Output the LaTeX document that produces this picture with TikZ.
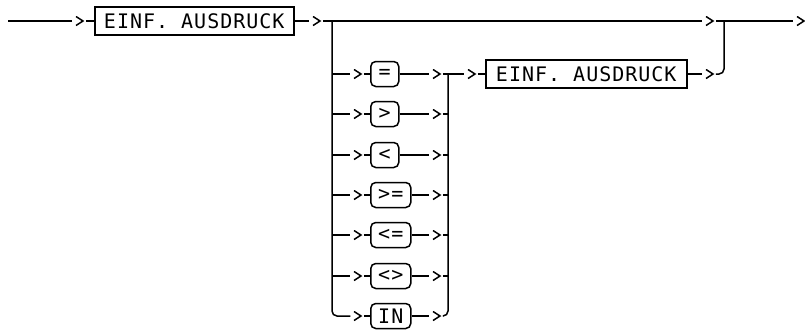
\documentclass[tikz,border=0pt]{standalone}
\usepackage{fontspec}
\newfontfamily\dotfont[LetterSpace=5]{DejaVu Sans Mono}
\usetikzlibrary{positioning}

\begin{document}
\begin{tikzpicture}[
    x=1pt, y=-1pt,
    line width=1.5pt,
    term/.style={rectangle, draw, minimum height=28pt, inner sep=0pt,
                 anchor=west, font=\fontsize{20pt}{22pt}\dotfont},
    opbox/.style={term, rounded corners=5pt, minimum height=25pt},
    chev/.style={rectangle, minimum width=12pt, minimum height=10pt, inner sep=0pt,
                 path picture={\draw[line width=1.5pt, line join=miter]
                   ([xshift=3pt,yshift=-0.5pt]path picture bounding box.north west)
                   -- ([xshift=-2pt]path picture bounding box.east)
                   -- ([xshift=3pt,yshift=0.5pt]path picture bounding box.south west);}},
    link/.style={line width=1.5pt},
    turnlink/.style={link, rounded corners=5pt},
]
    \useasboundingbox (0,0) rectangle (805,332);

    \coordinate (start) at (8,21);
    \node[chev] (c0) at (79,21) {};
    \node[term, minimum width=199pt] (e1) at (94,21) {EINF. AUSDRUCK};
    \node[chev] (c1) at (316,21) {};
    \coordinate (j1) at (332,21);
    \node[chev] (c2) at (709,21) {};
    \coordinate (j3) at (724,21);
    \node[chev] (c3) at (800,21) {};

    \node[chev] (l1) at (357,74) {};
    \node[opbox, minimum width=28pt] (op1) at (370,74) {=};
    \node[chev] (r1) at (436,74) {};
    \node[chev] (l2) at (357,114) {};
    \node[opbox, minimum width=28pt] (op2) at (370,114) {>};
    \node[chev] (r2) at (436,114) {};
    \node[chev] (l3) at (357,155) {};
    \node[opbox, minimum width=28pt] (op3) at (370,155) {<};
    \node[chev] (r3) at (436,155) {};
    \node[chev] (l4) at (357,195) {};
    \node[opbox, minimum width=40pt] (op4) at (370,195) {>=};
    \node[chev] (r4) at (436,195) {};
    \node[chev] (l5) at (357,235) {};
    \node[opbox, minimum width=40pt] (op5) at (370,235) {<=};
    \node[chev] (r5) at (436,235) {};
    \node[chev] (l6) at (357,276) {};
    \node[opbox, minimum width=40pt] (op6) at (370,276) {<>};
    \node[chev] (r6) at (436,276) {};
    \node[chev] (l7) at (357,316) {};
    \node[opbox, minimum width=40pt] (op7) at (370,316) {IN};
    \node[chev] (r7) at (436,316) {};

    \coordinate (j2) at (448,74);
    \node[chev] (c5) at (471,74) {};
    \node[term, minimum width=201pt] (e2) at (485,74) {EINF. AUSDRUCK};
    \node[chev] (c6) at (709,74) {};

    \draw[link] (start) -- (c0);
    \draw[link] (c0) -- (e1);
    \draw[link] (e1) -- (c1);
    \draw[link] (c1) -- (c2);
    \draw[link] (c2) -- (c3);

    \draw[turnlink] (j1) |- (l7.west);
    \draw[link] (j1 |- l1) -- (l1);
    \draw[link] (j1 |- l2) -- (l2);
    \draw[link] (j1 |- l3) -- (l3);
    \draw[link] (j1 |- l4) -- (l4);
    \draw[link] (j1 |- l5) -- (l5);
    \draw[link] (j1 |- l6) -- (l6);

    \draw[link] (l1) -- (op1); \draw[link] (op1) -- (r1);
    \draw[link] (l2) -- (op2); \draw[link] (op2) -- (r2);
    \draw[link] (l3) -- (op3); \draw[link] (op3) -- (r3);
    \draw[link] (l4) -- (op4); \draw[link] (op4) -- (r4);
    \draw[link] (l5) -- (op5); \draw[link] (op5) -- (r5);
    \draw[link] (l6) -- (op6); \draw[link] (op6) -- (r6);
    \draw[link] (l7) -- (op7); \draw[link] (op7) -- (r7);

    \draw[link] (r1) -- (j2);
    \draw[link] (r2) -- (j2 |- r2);
    \draw[link] (r3) -- (j2 |- r3);
    \draw[link] (r4) -- (j2 |- r4);
    \draw[link] (r5) -- (j2 |- r5);
    \draw[link] (r6) -- (j2 |- r6);
    \draw[turnlink] (r7.east) -| (j2);

    \draw[link] (j2) -- (c5);
    \draw[link] (c5) -- (e2);
    \draw[link] (e2) -- (c6);
    \draw[turnlink] (c6.east) -| (j3);
\end{tikzpicture}
\end{document}
